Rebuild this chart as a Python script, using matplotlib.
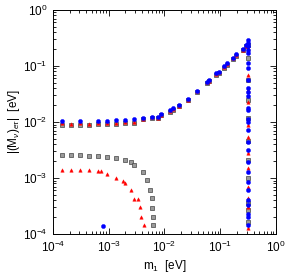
import matplotlib

matplotlib.use("Agg")

import matplotlib.pyplot as plt
import numpy as np
from matplotlib.ticker import LogLocator, NullFormatter

plt.rcParams["font.family"] = ["Liberation Sans", "DejaVu Sans"]
plt.rcParams["mathtext.fontset"] = "custom"
plt.rcParams["mathtext.rm"] = "Liberation Sans"
plt.rcParams["mathtext.it"] = "Liberation Sans:italic"

# upper branch (all three series share these m1 values)
m_low = [1.47e-4, 2.13e-4, 3.09e-4, 4.48e-4, 6.50e-4, 9.42e-4, 1.36e-3, 1.98e-3, 2.87e-3]
blue_low = [1.05e-2, np.nan, 1.05e-2, np.nan, 1.05e-2, 1.05e-2, 1.09e-2, 1.10e-2, 1.13e-2]
red_low = [9.5e-3, 9.2e-3, 9.5e-3, 9.2e-3, 9.5e-3, 9.5e-3, 9.7e-3, 9.9e-3, 1.01e-2]
black_low = [8.95e-3, 8.95e-3, 8.95e-3, 8.95e-3, 9.1e-3, 9.2e-3, 9.3e-3, 9.5e-3, 9.7e-3]

m_rise = [4.17e-3, 6.03e-3, 7.76e-3, 8.71e-3, 1.26e-2, 1.45e-2, 1.86e-2, 2.63e-2, 3.89e-2,
          5.75e-2, 6.31e-2, 8.32e-2, 9.33e-2, 0.117, 0.132, 0.170, 0.195, 0.251, 0.288]
v_rise = [1.17e-2, 1.24e-2, 1.24e-2, 1.38e-2, 1.62e-2, 1.74e-2, 2.0e-2, 2.57e-2, 3.63e-2,
          5.25e-2, 5.62e-2, 7.41e-2, 7.94e-2, 9.77e-2, 0.112, 0.141, 0.162, 0.200, 0.237]
black_rise = [1.12e-2, 1.18e-2, 1.17e-2, 1.31e-2, 1.53e-2, 1.65e-2, 1.9e-2, 2.44e-2, 3.45e-2,
              4.95e-2, 5.3e-2, 7.0e-2, 7.5e-2, 9.2e-2, 0.106, 0.133, 0.153, 0.189, 0.224]
red_rise = [1.14e-2, 1.21e-2, 1.2e-2, 1.34e-2, 1.57e-2, 1.69e-2, 1.94e-2, 2.5e-2, 3.53e-2,
            5.1e-2, 5.45e-2, 7.2e-2, 7.7e-2, 9.5e-2, 0.109, 0.137, 0.157, 0.194, 0.230]

# vertical column at m1 ~ 0.316 eV
m_col = 0.316
blue_col = [0.291, 0.258, 0.228, 0.193, 0.171, 0.113, 0.092, 0.056, 0.0405, 0.0343, 0.0291,
            0.0178, 0.0164, 0.0113, 0.0100, 0.0072, 0.0044, 0.00316, 0.00193, 0.00128,
            0.00085, 0.00061, 0.000405, 0.00033, 0.000228, 0.000201, 0.000145]
red_col = [0.210, 0.069, 0.037, 0.0228, 0.00883, 0.0054, 0.00279, 0.00151, 0.00069,
           0.00044, 0.000303, 0.000128]
black_col = [0.237, 0.139, 0.056, 0.0247, 0.0118, 0.00458, 0.00209, 0.00100, 0.000358,
             0.000268, 0.000164]

# lower branches
m_black_dn = [1.47e-4, 2.13e-4, 3.09e-4, 4.48e-4, 6.50e-4, 9.42e-4, 1.36e-3, 1.98e-3,
              2.47e-3, 2.87e-3, 4.11e-3, 4.93e-3, 5.60e-3, 5.90e-3, 6.10e-3, 6.25e-3, 6.30e-3]
v_black_dn = [2.58e-3, 2.58e-3, 2.55e-3, 2.50e-3, 2.47e-3, 2.37e-3, 2.24e-3, 2.07e-3,
              1.90e-3, 1.74e-3, 1.28e-3, 9.1e-4, 6.2e-4, 4.4e-4, 2.9e-4, 2.0e-4, 1.45e-4]
m_red_dn = [1.47e-4, 2.13e-4, 3.09e-4, 4.48e-4, 6.50e-4, 7.40e-4, 9.42e-4, 1.36e-3,
            1.82e-3, 1.98e-3, 2.50e-3, 2.87e-3, 3.37e-3, 3.70e-3, 3.77e-3, 4.25e-3]
v_red_dn = [1.40e-3, 1.40e-3, 1.37e-3, 1.37e-3, 1.34e-3, 1.32e-3, 1.19e-3, 1.02e-3,
            9.0e-4, 8.0e-4, 6.0e-4, 4.3e-4, 4.2e-4, 3.0e-4, 2.05e-4, 1.42e-4]
m_blue_dn = [7.9e-4]
v_blue_dn = [1.41e-4]

fig = plt.figure(figsize=(2.89, 2.75), dpi=100)
ax = fig.add_axes([0.183, 0.149, 0.772, 0.815])

blk = dict(marker="s", ms=3.0, mfc="#9a9a9a", mec="#444444", mew=0.5, ls="none")
red = dict(marker="^", ms=2.5, mfc="red", mec="red", mew=0.3, ls="none")
blu = dict(marker="o", ms=3.0, mfc="blue", mec="blue", mew=0.3, ls="none")

ax.plot(m_low + m_rise, black_low + black_rise, **blk)
ax.plot([m_col] * len(black_col), black_col, **blk)
ax.plot(m_black_dn, v_black_dn, **blk)

ax.plot(m_low + m_rise, red_low + red_rise, **red)
ax.plot([m_col] * len(red_col), red_col, **red)
ax.plot(m_red_dn, v_red_dn, **red)

ax.plot(m_low + m_rise, blue_low + v_rise, **blu)
ax.plot([m_col] * len(blue_col), blue_col, **blu)
ax.plot(m_blue_dn, v_blue_dn, **blu)

ax.set_xscale("log")
ax.set_yscale("log")
ax.set_xlim(1e-4, 1)
ax.set_ylim(1e-4, 1)
for axis in (ax.xaxis, ax.yaxis):
    axis.set_major_locator(LogLocator(base=10, numticks=10))
    axis.set_minor_locator(LogLocator(base=10, subs=np.arange(2, 10), numticks=10))
    axis.set_minor_formatter(NullFormatter())
ax.tick_params(which="both", direction="in", top=True, right=True, labelsize=8.5, width=0.6)
ax.tick_params(which="major", length=4.5, pad=4)
ax.tick_params(which="minor", length=2.5)
for s in ax.spines.values():
    s.set_linewidth(0.7)

ax.set_xlabel(r"m$_1$  [eV]", fontsize=8.5, labelpad=2)
ax.set_ylabel(r"|(M$_\nu$)$_{e\tau}$|  [eV]", fontsize=8.5, labelpad=1)

fig.savefig("out.png", dpi=100)
plt.close(fig)
